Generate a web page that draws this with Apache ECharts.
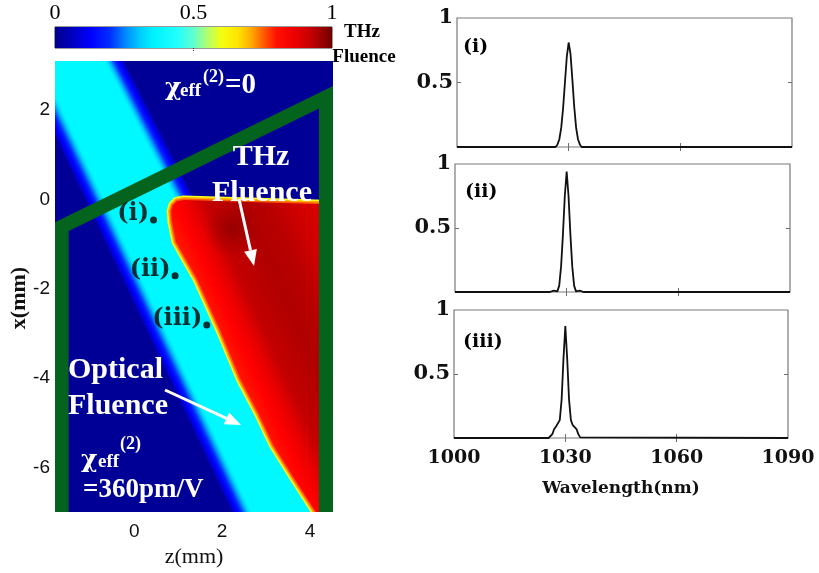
<!DOCTYPE html>
<html>
<head>
<meta charset="utf-8">
<script src="https://cdn.jsdelivr.net/npm/echarts@6/dist/echarts.min.js"></script>
<style>
  html, body { margin: 0; padding: 0; background: #fff; }
  #chart { width: 819px; height: 573px; }
</style>
</head>
<body>
<div id="chart"></div>
<script>
// ---- THz fluence colour bar ----
const fluenceTicks = [0, 0.5, 1];

// ---- Simulation window (mm): z along propagation, x transverse ----
const zRange = [-1.8, 4.52];
const xRange = [-7.0, 3.1];
const zTicks = [0, 2, 4];
const xTicks = [-6, -4, -2, 0, 2];

// Optical pump beam: centre lines of its two edges, [z, x]
const opticalEdgeLeft = [[-2.33, 3.1], [2.49, -7.0]];
const opticalEdgeRight = [[-0.50, 3.1], [4.73, -7.0]];

// Boundary of the generated THz fluence region, [z, x]
const thzRegion = [
  [1.13, -0.01], [0.97, -0.04], [0.88, -0.13], [0.84, -0.26], [0.86, -0.50],
  [0.95, -0.94], [1.16, -1.31], [1.43, -1.78], [1.95, -2.92], [2.41, -4.01],
  [2.82, -4.78], [3.16, -5.49], [3.66, -6.28], [4.13, -7.00], [4.27, -7.31],
  [4.79, -7.31], [4.79, -0.12]
];
const thzPeak = [2.22, -0.66];

// Outline of the nonlinear crystal, [z, x]
const crystalOutline = [[-1.65, -7.4], [-1.65, -0.61], [4.36, 2.29], [4.36, -7.4]];

// Probe positions where the spectra are taken, [z, x]
const probeNames = ['(i)', '(ii)', '(iii)'];
const probePoints = [[0.44, -0.46], [0.93, -1.71], [1.65, -2.81]];

// ---- Spectra at the probe positions ----
const wavelength = [1000, 1025.5, 1026, 1026.5, 1027, 1027.5, 1028, 1028.5, 1029, 1029.5,
  1030, 1030.5, 1031, 1031.5, 1032, 1032.5, 1033, 1033.5, 1034, 1034.5, 1090];
const spectrumI = [0, 0, 0, 0, 0.02, 0.06, 0.15, 0.30, 0.50, 0.70,
  0.81, 0.72, 0.52, 0.31, 0.15, 0.06, 0.02, 0, 0, 0, 0];
const spectrumII = [0, 0, 0, 0.01, 0, 0.005, 0.05, 0.20, 0.45, 0.75,
  0.94, 0.75, 0.45, 0.20, 0.05, 0.005, 0, 0.01, 0, 0, 0];
const spectrumIII = [0, 0, 0.005, 0.03, 0.07, 0.09, 0.10, 0.14, 0.30, 0.62,
  0.875, 0.62, 0.30, 0.14, 0.10, 0.09, 0.07, 0.03, 0.005, 0, 0];
const spectra = [spectrumI, spectrumII, spectrumIII];
const wavelengthRange = [1000, 1090];
const wavelengthTicks = [1000, 1030, 1060, 1090];
const intensityTicks = [0.5, 1];

// ---- Layout ----
const BAR = { left: 55, top: 27, width: 277, height: 21 };
const MAP = { left: 55, top: 61, width: 278, height: 460 };
const PANELS = [
  { left: 457, top: 18, width: 335, height: 129 },
  { left: 455, top: 164, width: 335, height: 128 },
  { left: 454, top: 310, width: 334, height: 128 }
];

const jetStops = [
  [0, '#00008c'], [0.07, '#0000c8'], [0.13, '#0000ff'], [0.2, '#0030ff'],
  [0.26, '#0090ff'], [0.31, '#00d0ff'], [0.36, '#00f4ff'], [0.44, '#20ffff'],
  [0.5, '#60ffd0'], [0.55, '#b0ff70'], [0.6, '#f4ff10'], [0.66, '#ffe400'],
  [0.71, '#ffa800'], [0.75, '#ff6000'], [0.8, '#ff1000'], [0.86, '#f00000'],
  [0.93, '#c00000'], [1, '#700000']
].map(([offset, color]) => ({ offset, color }));

const chart = echarts.init(document.getElementById('chart'), null, { renderer: 'canvas' });

const serif = '"Liberation Serif", "Times New Roman", serif';
const bookSerif = '"DejaVu Serif", serif';
const sans = '"Liberation Sans", Arial, sans-serif';

// colour bar
function renderColorBar(params, api) {
  const a = api.coord([fluenceTicks[0], 0]);
  const b = api.coord([fluenceTicks[fluenceTicks.length - 1], 1]);
  return {
    type: 'rect',
    shape: { x: a[0], y: b[1], width: b[0] - a[0], height: a[1] - b[1] },
    style: { fill: new echarts.graphic.LinearGradient(0, 0, 1, 0, jetStops) }
  };
}

// edge profile of the optical beam, offset in px from the edge line -> rgb
const beamEdgeProfile = [
  [-13, [0, 0, 150]], [-10, [0, 0, 215]], [-7, [0, 0, 255]], [-3, [0, 40, 255]],
  [0, [0, 120, 255]], [3, [0, 195, 255]], [6, [0, 240, 255]], [8, [0, 248, 255]]
];
function beamColor(o) {
  for (let i = 1; i < beamEdgeProfile.length; i++) {
    const [o0, c0] = beamEdgeProfile[i - 1], [o1, c1] = beamEdgeProfile[i];
    if (o <= o1) {
      const t = (o - o0) / (o1 - o0);
      return 'rgb(' + c0.map((v, j) => Math.round(v + (c1[j] - v) * t)).join(',') + ')';
    }
  }
  return 'rgb(0,248,255)';
}

// optical beam: nested strips from its dark edge to the bright core
function renderOptical(params, api) {
  const L0 = api.coord(opticalEdgeLeft[0]), L1 = api.coord(opticalEdgeLeft[1]);
  const R0 = api.coord(opticalEdgeRight[0]), R1 = api.coord(opticalEdgeRight[1]);
  const children = [];
  for (let o = -12; o <= 8; o++) {
    children.push({
      type: 'polygon',
      shape: { points: [[L0[0] + o, L0[1]], [L1[0] + o, L1[1]], [R1[0] - o, R1[1]], [R0[0] - o, R0[1]]] },
      style: { fill: beamColor(o) }
    });
  }
  return { type: 'group', children };
}

// THz region with yellow/orange rim and darker interior
function renderThz(params, api) {
  const pts = thzRegion.map(p => api.coord(p));
  const a = pts[8];
  const e0 = pts[7], e1 = pts[11];
  const dx = e1[0] - e0[0], dy = e1[1] - e0[1];
  const len = Math.hypot(dx, dy);
  const nx = dy / len, ny = -dx / len;
  const span = 160;
  const fill = new echarts.graphic.LinearGradient(a[0], a[1], a[0] + nx * span, a[1] + ny * span, [
    { offset: 0, color: '#ff1400' }, { offset: 0.08, color: '#ff0000' },
    { offset: 0.16, color: '#ea0000' }, { offset: 0.25, color: '#c40000' },
    { offset: 0.45, color: '#b00000' }, { offset: 0.6, color: '#b80000' },
    { offset: 0.75, color: '#d00000' }, { offset: 1, color: '#e40000' }
  ], true);
  const c = api.coord(thzPeak);
  return {
    type: 'group',
    children: [
      { type: 'polygon', shape: { points: pts }, style: { fill: 'none', stroke: '#f8ff20', lineWidth: 9, lineJoin: 'round' } },
      { type: 'polygon', shape: { points: pts }, style: { fill: 'none', stroke: '#ffb000', lineWidth: 6, lineJoin: 'round' } },
      { type: 'polygon', shape: { points: pts }, style: { fill: 'none', stroke: '#ff5a00', lineWidth: 3, lineJoin: 'round' } },
      { type: 'polygon', shape: { points: pts }, style: { fill: fill } },
      {
        type: 'circle', shape: { cx: c[0], cy: c[1], r: 28 },
        style: {
          fill: new echarts.graphic.RadialGradient(c[0], c[1], 28, [
            { offset: 0, color: 'rgba(120,0,0,0.55)' },
            { offset: 0.6, color: 'rgba(140,0,0,0.25)' },
            { offset: 1, color: 'rgba(160,0,0,0)' }
          ], true)
        }
      }
    ]
  };
}

function renderCrystal(params, api) {
  return {
    type: 'polyline',
    shape: { points: crystalOutline.map(p => api.coord(p)) },
    style: { fill: 'none', stroke: '#04641e', lineWidth: 14, lineJoin: 'miter' }
  };
}

// ---- axes ----
const plain = v => String(v);
const xAxes = [
  { gridIndex: 0, type: 'value', position: 'top', min: 0, max: 1,
    axisLine: { show: false }, splitLine: { show: false },
    axisTick: { show: true, inside: true, length: 4, customValues: [0.5], lineStyle: { color: '#333', type: 'dotted' } },
    axisLabel: { customValues: fluenceTicks, formatter: plain, margin: 3, fontFamily: serif, fontSize: 22, color: '#000' } },
  { gridIndex: 0, type: 'value', position: 'bottom', min: 0, max: 1,
    axisLine: { show: false }, splitLine: { show: false }, axisLabel: { show: false },
    axisTick: { show: true, inside: true, length: 4, customValues: [0.5], lineStyle: { color: '#333', type: 'dotted' } } },
  { gridIndex: 1, type: 'value', min: zRange[0], max: zRange[1],
    axisLine: { show: false }, axisTick: { show: false }, splitLine: { show: false },
    axisLabel: { customValues: zTicks, formatter: plain, margin: 10, fontFamily: sans, fontSize: 19, color: '#111' },
    name: 'z(mm)', nameLocation: 'middle', nameGap: 26,
    nameTextStyle: { fontFamily: serif, fontSize: 22, color: '#111' } }
];
const yAxes = [
  { gridIndex: 0, type: 'value', min: 0, max: 1, show: false },
  { gridIndex: 1, type: 'value', min: xRange[0], max: xRange[1],
    axisLine: { show: false }, axisTick: { show: false }, splitLine: { show: false },
    axisLabel: { customValues: xTicks, formatter: plain, margin: 5, fontFamily: sans, fontSize: 19, color: '#111' } }
];
const tickStyle = { color: '#6e6e6e', width: 1 };
PANELS.forEach((p, k) => {
  const last = k === PANELS.length - 1;
  xAxes.push({ gridIndex: 2 + k, type: 'value', min: wavelengthRange[0], max: wavelengthRange[1],
    axisLine: { show: false }, splitLine: { show: false },
    axisTick: { show: true, inside: true, length: 4, customValues: [1030, 1060], lineStyle: tickStyle },
    axisLabel: { show: last, customValues: wavelengthTicks, formatter: plain, margin: 11, fontFamily: bookSerif, fontWeight: 'bold', fontSize: 19, color: '#111' },
    name: last ? 'Wavelength(nm)' : '', nameLocation: 'middle', nameGap: 42,
    nameTextStyle: { fontFamily: bookSerif, fontWeight: 'bold', fontSize: 17, color: '#111' } });
  yAxes.push({ gridIndex: 2 + k, type: 'value', min: 0, max: 1,
    axisLine: { show: false }, splitLine: { show: false },
    axisTick: { show: true, inside: true, length: 4, customValues: [0.5], lineStyle: tickStyle },
    axisLabel: { customValues: intensityTicks, formatter: plain, margin: 4, fontFamily: bookSerif, fontWeight: 'bold', fontSize: 21, color: '#111' } });
});
PANELS.forEach((p, k) => {
  xAxes.push({ gridIndex: 2 + k, type: 'value', position: 'top', min: wavelengthRange[0], max: wavelengthRange[1],
    axisLine: { show: false }, splitLine: { show: false }, axisLabel: { show: false },
    axisTick: { show: true, inside: true, length: 4, customValues: [1030, 1060], lineStyle: tickStyle } });
  yAxes.push({ gridIndex: 2 + k, type: 'value', position: 'right', min: 0, max: 1,
    axisLine: { show: false }, splitLine: { show: false }, axisLabel: { show: false },
    axisTick: { show: true, inside: true, length: 4, customValues: [0.5], lineStyle: tickStyle } });
});

// ---- annotations ----
function label(text, x, y, size, opts) {
  return {
    type: 'text', x, y, z: 100,
    style: Object.assign({
      text, fill: '#fff', font: `bold ${size}px ${serif}`,
      textAlign: 'left', textVerticalAlign: 'middle'
    }, opts || {})
  };
}
function arrow(sx, sy, tx, ty, head, half) {
  const dx = tx - sx, dy = ty - sy, len = Math.hypot(dx, dy);
  const ux = dx / len, uy = dy / len;
  const bx = tx - ux * head, by = ty - uy * head;
  return {
    type: 'group', z: 100,
    children: [
      { type: 'line', z: 100, shape: { x1: sx, y1: sy, x2: bx, y2: by }, style: { stroke: '#fff', lineWidth: 3 } },
      { type: 'polygon', z: 100, shape: { points: [[tx, ty], [bx - uy * half, by + ux * half], [bx + uy * half, by - ux * half]] }, style: { fill: '#fff' } }
    ]
  };
}
const chiFont = `bold 25px ${bookSerif}`;

const graphics = [
  label('χ', 165, 88, 25, { font: chiFont }),
  label('eff', 180, 91, 19),
  label('(2)', 203, 77, 18),
  label('=0', 225, 86, 29),
  label('THz', 261, 157, 30, { textAlign: 'center' }),
  label('Fluence', 262, 193, 30, { textAlign: 'center' }),
  arrow(239, 199, 254, 266, 16, 6.5),
  label('Optical', 68, 370, 30),
  label('Fluence', 68, 406, 30),
  arrow(165, 390, 241, 425, 16, 6.5),
  label('χ', 81, 460, 25, { font: chiFont }),
  label('eff', 98, 462, 19),
  label('(2)', 120, 444, 18),
  label('=360pm/V', 83, 490, 27),
  label('THz', 362, 32, 19, { fill: '#000', textAlign: 'center' }),
  label('Fluence', 364, 57, 19, { fill: '#000', textAlign: 'center' }),
  label('x(mm)', 19, 298, 22, { fill: '#111', textAlign: 'center' })
];
// rotate the transverse-axis title to read bottom-to-top
graphics[graphics.length - 1].rotation = Math.PI / 2;

const panelTagPos = [[463, 47], [465, 192], [463, 342]];
probeNames.forEach((n, k) => {
  graphics.push(label(n, panelTagPos[k][0], panelTagPos[k][1], 19,
    { fill: '#000', font: `bold 19px ${bookSerif}` }));
});

const series = [
  { type: 'custom', xAxisIndex: 0, yAxisIndex: 0, data: [[0, 0]], renderItem: renderColorBar, silent: true },
  { type: 'custom', xAxisIndex: 2, yAxisIndex: 1, clip: true, data: [opticalEdgeLeft[1]], renderItem: renderOptical, silent: true, z: 2 },
  { type: 'custom', xAxisIndex: 2, yAxisIndex: 1, clip: true, data: [thzRegion[0]], renderItem: renderThz, silent: true, z: 3 },
  { type: 'custom', xAxisIndex: 2, yAxisIndex: 1, clip: true, data: [crystalOutline[1]], renderItem: renderCrystal, silent: true, z: 4 },
  { type: 'scatter', xAxisIndex: 2, yAxisIndex: 1, z: 5, data: probePoints, symbol: 'circle', symbolSize: 7,
    itemStyle: { color: '#000' },
    label: { show: true, position: 'left', distance: 1, offset: [0, -6],
      formatter: p => probeNames[p.dataIndex],
      fontFamily: bookSerif, fontWeight: 'bold', fontSize: 24, color: '#000' } }
];
spectra.forEach((vals, k) => {
  series.push({
    type: 'line', xAxisIndex: 3 + k, yAxisIndex: 2 + k, clip: false,
    data: wavelength.map((w, i) => [w, vals[i]]),
    showSymbol: false, symbol: 'none',
    lineStyle: { color: '#111', width: 1.8 }, z: 5
  });
});

const grids = [
  Object.assign({ show: true, borderColor: '#333', borderWidth: 1, backgroundColor: '#fff' }, BAR),
  Object.assign({ show: true, borderWidth: 0, backgroundColor: '#000096' }, MAP)
];
PANELS.forEach(p => grids.push(Object.assign({ show: true, borderColor: '#7a7a7a', borderWidth: 1.2, backgroundColor: '#fff' }, p)));

chart.setOption({
  animation: false,
  backgroundColor: '#fff',
  grid: grids,
  xAxis: xAxes,
  yAxis: yAxes,
  series,
  graphic: graphics
});
</script>
</body>
</html>
